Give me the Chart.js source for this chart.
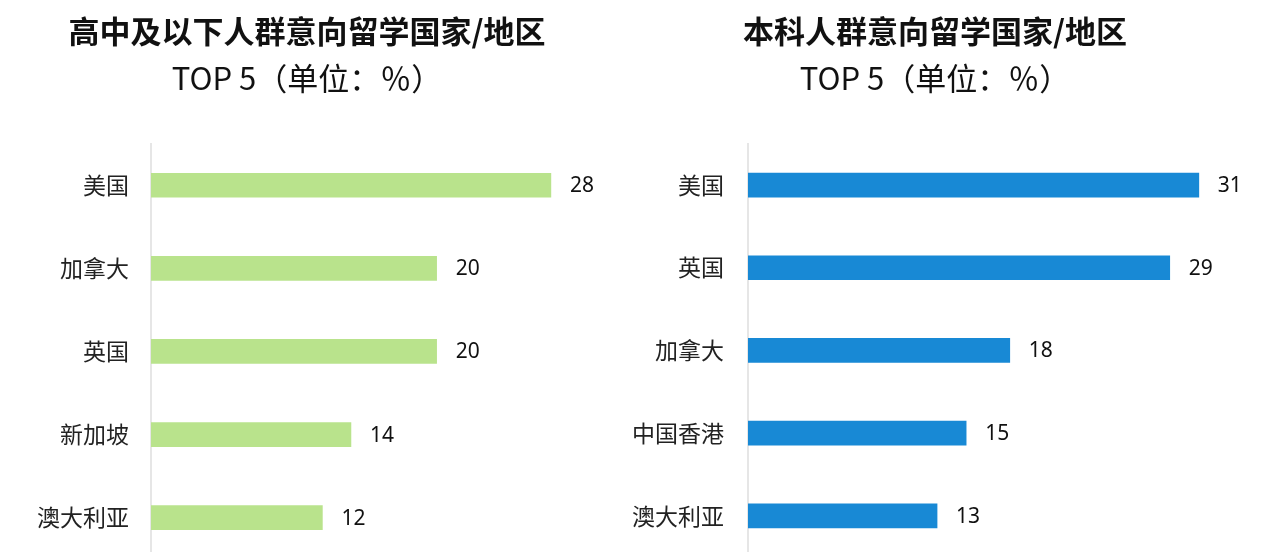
<!DOCTYPE html>
<html>
<head>
<meta charset="utf-8">
<script src="https://cdn.jsdelivr.net/npm/chart.js@4"></script>
<style>
  html, body { margin: 0; padding: 0; background: #fff; overflow: hidden; width: 1280px; height: 552px; }
  .box { position: absolute; top: 0; }
</style>
</head>
<body>
<div class="box" style="left:6px;width:607px;height:595px"><canvas id="left" width="607" height="595"></canvas></div>
<div class="box" style="left:613px;width:667px;height:595px"><canvas id="right" width="667" height="595"></canvas></div>
<script>
const leftTitle = '高中及以下人群意向留学国家/地区';
const rightTitle = '本科人群意向留学国家/地区';
const subTitle = 'TOP 5（单位：％）';

const leftCats = ['美国', '加拿大', '英国', '新加坡', '澳大利亚'];
const leftValues = [28, 20, 20, 14, 12];

const rightCats = ['美国', '英国', '加拿大', '中国香港', '澳大利亚'];
const rightValues = [31, 29, 18, 15, 13];

const cjk = "'Noto Sans CJK SC', 'Noto Sans', sans-serif";

// value text just past the end of each bar
const barLabels = {
  id: 'barLabels',
  afterDatasetsDraw(chart) {
    const ctx = chart.ctx;
    const meta = chart.getDatasetMeta(0);
    ctx.save();
    ctx.font = "21px 'Noto Sans', 'Open Sans', sans-serif";
    ctx.fillStyle = '#111';
    ctx.textBaseline = 'middle';
    ctx.textAlign = 'left';
    meta.data.forEach((bar, i) => {
      ctx.fillText(chart.data.datasets[0].data[i], bar.x + 19, bar.y + 1);
    });
    ctx.restore();
  }
};

function makeChart(id, title, cats, values, color, xMax, axisWidth, padRight, tickPad) {
  new Chart(document.getElementById(id), {
    type: 'bar',
    data: {
      labels: cats,
      datasets: [{
        data: values,
        backgroundColor: color,
        barThickness: 24
      }]
    },
    options: {
      indexAxis: 'y',
      responsive: false,
      animation: false,
      events: [],
      layout: { padding: { left: 0, right: padRight, top: 0, bottom: 1.5 } },
      plugins: {
        legend: { display: false },
        tooltip: { enabled: false },
        title: {
          display: true,
          text: title,
          color: '#111',
          font: { family: cjk, size: 31, weight: 'bold', lineHeight: 1.2 },
          padding: { top: 13, bottom: 9 }
        },
        subtitle: {
          display: true,
          text: subTitle,
          color: '#111',
          font: { family: cjk, size: 31, weight: 'normal', lineHeight: 1.2 },
          padding: { top: 0, bottom: 47.3 }
        }
      },
      scales: {
        x: {
          display: false,
          min: 0,
          max: xMax
        },
        y: {
          grid: { display: false, drawTicks: false },
          border: { display: true, color: '#e6e6e6', width: 2 },
          ticks: {
            color: '#222',
            padding: tickPad,
            font: { family: cjk, size: 23 }
          },
          afterFit(scale) { scale.width = axisWidth; }
        }
      }
    },
    plugins: [barLabels]
  });
}

makeChart('left', leftTitle, leftCats, leftValues, 'rgb(185,227,140)', 32, 145, 5, 22);
makeChart('right', rightTitle, rightCats, rightValues, 'rgb(24,137,213)', 35, 135, 23, 24);
</script>
</body>
</html>
